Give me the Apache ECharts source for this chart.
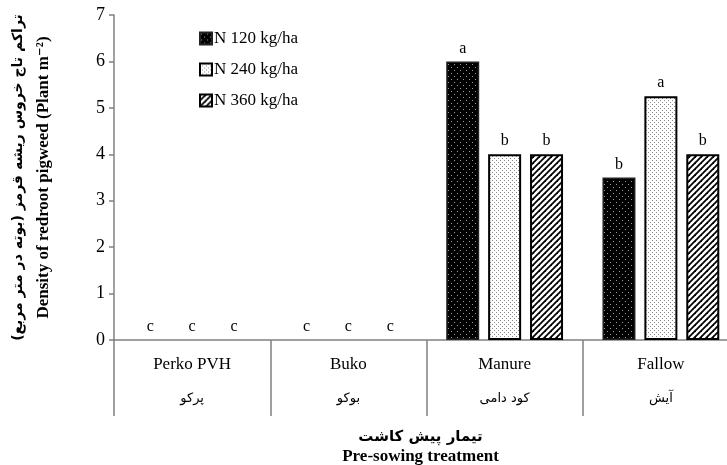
<!DOCTYPE html>
<html>
<head>
<meta charset="utf-8">
<script src="https://cdn.jsdelivr.net/npm/echarts@6/dist/echarts.min.js"></script>
<style>html,body{margin:0;padding:0;background:#fff}#c{width:727px;height:465px}</style>
</head>
<body>
<div id="c"></div>
<script>
// ---- data ----
const categoriesEn = ['Perko PVH', 'Buko', 'Manure', 'Fallow'];
const categoriesFa = ['پرکو', 'بوکو', 'کود دامی', 'آیش'];
const seriesNames = ['N 120 kg/ha', 'N 240 kg/ha', 'N 360 kg/ha'];
const valuesN120 = [0, 0, 6, 3.5];
const valuesN240 = [0, 0, 4, 5.25];
const valuesN360 = [0, 0, 4, 4];
const lettersN120 = ['c', 'c', 'a', 'b'];
const lettersN240 = ['c', 'c', 'b', 'a'];
const lettersN360 = ['c', 'c', 'b', 'b'];
const yTicks = [0, 1, 2, 3, 4, 5, 6, 7];
const yTitleFa = 'تراکم تاج خروس ریشه قرمز (بوته در متر مربع)';
const yTitleEn = 'Density of redroot pigweed (Plant m⁻²)';
const xTitleFa = 'تیمار پیش کاشت';
const xTitleEn = 'Pre-sowing treatment';

// ---- patterns ----
function makeCanvas(w, h, draw) {
  const c = document.createElement('canvas');
  c.width = w; c.height = h;
  draw(c.getContext('2d'), w, h);
  return c;
}
const patBlackDots = makeCanvas(6, 6, (g, w, h) => {
  g.fillStyle = '#000'; g.fillRect(0, 0, w, h);
  g.fillStyle = '#9a9a9a';
  g.fillRect(1, 1, 1, 1); g.fillRect(4, 4, 1, 1);
});
const patWhiteDots = makeCanvas(4, 4, (g, w, h) => {
  g.fillStyle = '#fff'; g.fillRect(0, 0, w, h);
  g.fillStyle = '#8a8a8a';
  g.fillRect(0, 0, 1, 1); g.fillRect(2, 2, 1, 1);
});
const patStripes = makeCanvas(6, 6, (g, w, h) => {
  g.fillStyle = '#fff'; g.fillRect(0, 0, w, h);
  g.strokeStyle = '#000'; g.lineWidth = 1.8;
  for (let k = -2; k <= 2; k++) {
    g.beginPath();
    g.moveTo(k * 6 - 1, h + 1);
    g.lineTo(k * 6 + w + 1, -1);
    g.stroke();
  }
});

const FONT = '"Liberation Serif", "Times New Roman", "DejaVu Serif", serif';
const FONT_FA = '"DejaVu Sans", "Liberation Serif", sans-serif';

const valueSets = [valuesN120, valuesN240, valuesN360];
const letterSets = [lettersN120, lettersN240, lettersN360];
const styles = [
  { color: { image: patBlackDots, repeat: 'repeat' }, borderColor: '#222', borderWidth: 1.5 },
  { color: { image: patWhiteDots, repeat: 'repeat' }, borderColor: '#000', borderWidth: 2 },
  { color: { image: patStripes, repeat: 'repeat' }, borderColor: '#000', borderWidth: 2 }
];

const series = seriesNames.map((name, i) => ({
  name: name,
  type: 'bar',
  // zero-height bars are drawn without outline so they stay invisible
  data: valueSets[i].map(v => v === 0 ? { value: v, itemStyle: { borderWidth: 0 } } : v),
  barWidth: 33,
  barGap: '27%',
  itemStyle: styles[i],
  label: {
    show: true,
    position: 'top',
    distance: 5,
    fontFamily: FONT,
    fontSize: 16,
    color: '#000',
    formatter: p => letterSets[i][p.dataIndex]
  }
}));

const chart = echarts.init(document.getElementById('c'), null, { renderer: 'canvas' });
chart.setOption({
  animation: false,
  backgroundColor: '#fff',
  grid: { left: 114, top: 15, width: 625, height: 325, containLabel: false, outerBoundsMode: 'none' },
  legend: {
    data: seriesNames,
    orient: 'vertical',
    left: 194,
    top: 25,
    itemWidth: 12,
    itemHeight: 12,
    itemGap: 14,
    icon: 'rect',
    textStyle: { fontFamily: FONT, fontSize: 17, color: '#000', padding: [0, 0, 0, -3] }
  },
  xAxis: {
    type: 'category',
    data: categoriesEn,
    axisLine: { show: true, lineStyle: { color: '#808080', width: 1.5 } },
    axisTick: { show: true, alignWithLabel: false, interval: 0, length: 76, inside: false,
      lineStyle: { color: '#808080', width: 1.5 } },
    axisLabel: {
      interval: 0,
      margin: 8,
      formatter: (v, idx) => '{en|' + v + '}\n{fa|' + categoriesFa[idx] + '}',
      rich: {
        en: { fontFamily: FONT, fontSize: 17, color: '#000', lineHeight: 34 },
        fa: { fontFamily: FONT_FA, fontSize: 13, color: '#000', lineHeight: 34 }
      }
    },
    name: '{fa|' + xTitleFa + '}\n{en|' + xTitleEn + '}',
    nameLocation: 'middle',
    nameGap: 88,
    nameTextStyle: {
      rich: {
        fa: { fontFamily: FONT_FA, fontSize: 15, fontWeight: 'bold', color: '#000', lineHeight: 19, padding: [0, 12, 0, 0] },
        en: { fontFamily: FONT, fontSize: 17, fontWeight: 'bold', color: '#000', lineHeight: 19, padding: [0, 12, 0, 0] }
      }
    }
  },
  yAxis: {
    type: 'value',
    min: yTicks[0],
    max: yTicks[yTicks.length - 1],
    interval: 1,
    splitLine: { show: false },
    axisLine: { show: true, lineStyle: { color: '#808080', width: 1.5 } },
    axisTick: { show: true, length: 5, lineStyle: { color: '#808080', width: 1.5 } },
    axisLabel: { fontFamily: FONT, fontSize: 18, color: '#000', margin: 9 },
    name: '{fa|' + yTitleFa + '}\n{en|' + yTitleEn + '}',
    nameLocation: 'middle',
    nameRotate: 90,
    nameGap: 58,
    nameTextStyle: {
      rich: {
        fa: { fontFamily: FONT_FA, fontSize: 14, fontWeight: 'bold', color: '#000', lineHeight: 25 },
        en: { fontFamily: FONT, fontSize: 17, fontWeight: 'bold', color: '#000', lineHeight: 25 }
      }
    }
  },
  series: series
});
</script>
</body>
</html>
